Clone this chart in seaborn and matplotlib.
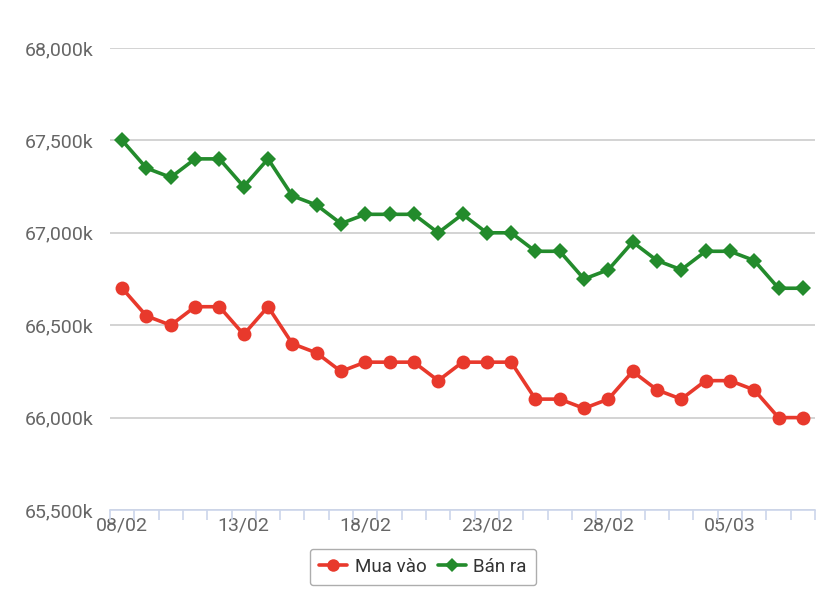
import matplotlib
matplotlib.use("Agg")
import matplotlib.pyplot as plt
import seaborn as sns
import pandas as pd
import numpy as np
from matplotlib.ticker import FuncFormatter, FixedLocator

dates = ["08/02", "09/02", "10/02", "11/02", "12/02", "13/02", "14/02", "15/02",
         "16/02", "17/02", "18/02", "19/02", "20/02", "21/02", "22/02", "23/02",
         "24/02", "25/02", "26/02", "27/02", "28/02", "29/02", "01/03", "02/03",
         "04/03", "05/03", "06/03", "07/03", "08/03"]
mua_vao = [66700, 66550, 66500, 66600, 66600, 66450, 66600, 66400, 66350, 66250,
           66300, 66300, 66300, 66200, 66300, 66300, 66300, 66100, 66100, 66050,
           66100, 66250, 66150, 66100, 66200, 66200, 66150, 66000, 66000]
ban_ra = [67500, 67350, 67300, 67400, 67400, 67250, 67400, 67200, 67150, 67050,
          67100, 67100, 67100, 67000, 67100, 67000, 67000, 66900, 66900, 66750,
          66800, 66950, 66850, 66800, 66900, 66900, 66850, 66700, 66700]
shown_labels = ["08/02", "13/02", "18/02", "23/02", "28/02", "05/03"]

idx = np.arange(len(dates))
df = pd.DataFrame({
    "x": np.concatenate([idx, idx]),
    "value": mua_vao + ban_ra,
    "series": ["Mua vào"] * len(dates) + ["Bán ra"] * len(dates),
})

sns.set_theme(style="white")
plt.rcParams['font.family'] = ['Roboto', 'DejaVu Sans']

fig = plt.figure(figsize=(8.35, 6.07), dpi=100)
ax = fig.add_axes([110/835, 1-510/607, 705/835, 462/607])

red = "#e8392c"
green = "#238b2c"
sns.lineplot(data=df, x="x", y="value", hue="series", style="series",
             palette={"Mua vào": red, "Bán ra": green},
             markers={"Mua vào": "o", "Bán ra": "D"},
             dashes=False, linewidth=2.6, markersize=10, markeredgewidth=0,
             ax=ax, legend=False)
for line in ax.lines:
    if line.get_marker() == "D":
        line.set_markersize(8)

ax.set_xlim(-0.5, len(dates) - 0.5)
ax.set_ylim(65500, 68000)
ax.set_yticks([65500, 66000, 66500, 67000, 67500, 68000])
ax.yaxis.set_major_formatter(FuncFormatter(lambda v, p: f"{int(v):,}k"))
ax.grid(axis="y", color="#cccccc", linewidth=1.2)
ax.set_axisbelow(True)

pos = [dates.index(l) for l in shown_labels]
ax.set_xticks(pos)
ax.set_xticklabels(shown_labels)
ax.xaxis.set_minor_locator(FixedLocator(np.arange(-0.5, len(dates), 1.0)))
ax.tick_params(axis="x", which="major", bottom=False, length=0, pad=5, labelsize=14, labelcolor="#666666")
ax.tick_params(axis="x", which="minor", bottom=True, length=7, width=1.2, color="#ccd6eb", direction="out")
ax.tick_params(axis="y", length=0, pad=12, labelsize=14, labelcolor="#666666")

for s in ["top", "right", "left"]:
    ax.spines[s].set_visible(False)
ax.spines["bottom"].set_color("#ccd6eb")
ax.spines["bottom"].set_linewidth(1.2)
ax.set_xlabel("")
ax.set_ylabel("")

from matplotlib.lines import Line2D
handles = [Line2D([], [], color=red, marker="o", markersize=9, linewidth=2.6, markeredgewidth=0),
           Line2D([], [], color=green, marker="D", markersize=7, linewidth=2.6, markeredgewidth=0)]
leg = fig.legend(handles, ["Mua vào", "Bán ra"], loc="center", bbox_to_anchor=(423/835, 1-567/607),
                 ncol=2, frameon=True, fontsize=13.5, handlelength=1.5, columnspacing=0.6,
                 handletextpad=0.4, borderpad=0.5, borderaxespad=0, fancybox=True)
leg.get_frame().set_edgecolor("#999999")
leg.get_frame().set_linewidth(1.0)
for t in leg.get_texts():
    t.set_color("#333333")

fig.savefig("out.png", dpi=100)
